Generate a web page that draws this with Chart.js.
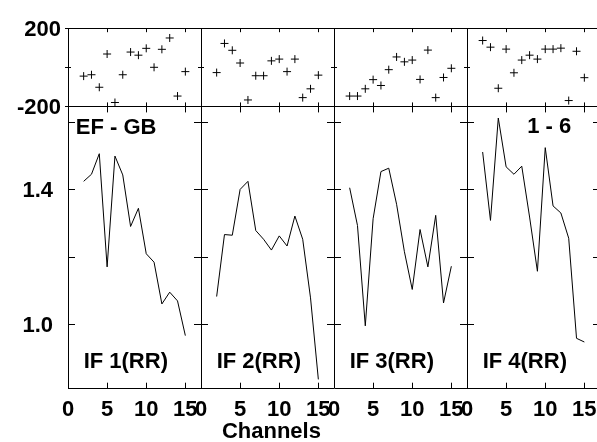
<!DOCTYPE html>
<html>
<head>
<meta charset="utf-8">
<script src="https://cdn.jsdelivr.net/npm/chart.js@4"></script>
<style>
  html, body { margin: 0; padding: 0; background: #fff; overflow: hidden; }
  #wrap { width: 605px; height: 442px; }
</style>
</head>
<body>
<div id="wrap"><canvas id="c" width="605" height="442"></canvas></div>
<script>
// ---- data ----
const channels = [2, 3, 4, 5, 6, 7, 8, 9, 10, 11, 12, 13, 14, 15];
const panelNames = ['IF 1(RR)', 'IF 2(RR)', 'IF 3(RR)', 'IF 4(RR)'];
const baselineLabel = 'EF - GB';
const timeLabel = '1 - 6';
const xTitle = 'Channels';

const phase1 = [-45, -38, -102, 68, -180, -38, 78, 62, 97, 0, 92, 150, -147, -22];
const phase2 = [-27, 122, 87, 22, -167, -43, -43, 33, 42, -22, 42, -155, -110, -40];
const phase3 = [-147, -147, -110, -63, -93, -12, 53, 28, 37, -62, 88, -155, -52, -5];
const phase4 = [137, 103, -107, 93, -28, 37, 62, 42, 93, 93, 98, -170, 82, -53];

const amp1 = [1.424, 1.445, 1.506, 1.170, 1.499, 1.443, 1.290, 1.344, 1.209, 1.184, 1.060, 1.095, 1.069, 0.966];
const amp2 = [1.082, 1.266, 1.264, 1.400, 1.424, 1.278, 1.252, 1.220, 1.262, 1.232, 1.321, 1.252, 1.078, 0.836];
const amp3 = [1.405, 1.293, 0.995, 1.313, 1.453, 1.463, 1.356, 1.215, 1.103, 1.281, 1.170, 1.323, 1.063, 1.172];
const amp4 = [1.511, 1.308, 1.612, 1.467, 1.445, 1.469, 1.318, 1.157, 1.524, 1.351, 1.330, 1.255, 0.958, 0.947];

const xTickChannels = [0, 5, 10, 15];
const xTickLabels = ['0', '5', '10', '15'];
const phaseTicks = [-200, 0, 200];
const phaseLabels = ['-200', '', '200'];
const ampTicks = [1.0, 1.2, 1.4, 1.6];
const ampLabels = ['1.0', '', '1.4', ''];

const PANEL_SPAN = 17;           // channel range shown per panel
const phaseAll = [phase1, phase2, phase3, phase4];
const ampAll = [amp1, amp2, amp3, amp4];

// ---- build datasets ----
const datasets = [];
phaseAll.forEach((vals, p) => {
  datasets.push({
    type: 'scatter',
    data: channels.map((c, i) => ({ x: p * PANEL_SPAN + c, y: vals[i] })),
    yAxisID: 'yP',
    pointStyle: 'cross',
    pointRadius: 4,
    pointBorderWidth: 1,
    pointBorderColor: '#000',
    showLine: false
  });
});
ampAll.forEach((vals, p) => {
  datasets.push({
    type: 'scatter',
    data: channels.map((c, i) => ({ x: p * PANEL_SPAN + c, y: vals[i] })),
    yAxisID: 'yA',
    showLine: true,
    borderColor: '#000',
    borderWidth: 1,
    pointRadius: 0,
    tension: 0
  });
});

const FONT = { family: "'Liberation Sans', Arial, Helvetica, sans-serif", weight: 'bold', size: 22 };
const NPANEL = panelNames.length;

const xTickValues = [];
const xTickText = [];
for (let p = 0; p < NPANEL; p++) {
  xTickChannels.forEach((c, i) => { xTickValues.push(p * PANEL_SPAN + c); xTickText.push(xTickLabels[i]); });
}

const decor = {
  id: 'decor',
  afterDraw(chart) {
    const ctx = chart.ctx;
    const x = chart.scales.x, yP = chart.scales.yP, yA = chart.scales.yA;
    const al = v => Math.round(v) + 0.5;
    ctx.save();
    ctx.strokeStyle = '#000';
    ctx.lineWidth = 1;
    ctx.beginPath();
    for (let p = 0; p < NPANEL; p++) {
      xTickChannels.forEach(t => {
        if (t === 0) return;
        const px = al(x.getPixelForValue(p * PANEL_SPAN + t));
        ctx.moveTo(px, yP.top); ctx.lineTo(px, yP.top + 4);
        ctx.moveTo(px, yP.bottom); ctx.lineTo(px, yP.bottom - 4);
        ctx.moveTo(px, yA.top); ctx.lineTo(px, yA.top + 6);
        ctx.moveTo(px, yA.bottom); ctx.lineTo(px, yA.bottom - 6);
      });
    }
    for (let p = 0; p <= NPANEL; p++) {
      const bx = x.getPixelForValue(p * PANEL_SPAN);
      phaseTicks.forEach(v => {
        const py = al(yP.getPixelForValue(v));
        ctx.moveTo(bx - 3, py); ctx.lineTo(bx + 3, py);
      });
      ampTicks.forEach(v => {
        const py = al(yA.getPixelForValue(v));
        ctx.moveTo(p === 0 ? bx : bx - 7, py); ctx.lineTo(bx + 7, py);
      });
    }
    ctx.stroke();

    ctx.fillStyle = '#000';
    ctx.font = `bold ${FONT.size}px ${FONT.family}`;
    ctx.textBaseline = 'alphabetic';
    ctx.textAlign = 'left';
    ctx.fillText(baselineLabel, x.getPixelForValue(1), yA.top + 28);
    ctx.textAlign = 'center';
    ctx.fillText(timeLabel, x.getPixelForValue(3 * PANEL_SPAN + 10.5), yA.top + 27);
    ctx.textAlign = 'left';
    panelNames.forEach((name, p) => {
      ctx.fillText(name, x.getPixelForValue(p * PANEL_SPAN + 2), yA.bottom - 20.5);
    });
    ctx.textAlign = 'center';
    ctx.fillText(xTitle, x.getPixelForValue(PANEL_SPAN + 9), chart.height - 4);
    ctx.restore();
  }
};

new Chart(document.getElementById('c'), {
  type: 'scatter',
  data: { datasets },
  plugins: [decor],
  options: {
    responsive: false,
    animation: false,
    events: [],
    layout: { padding: { top: 20, right: 4, left: 0, bottom: 0 } },
    plugins: { legend: { display: false }, tooltip: { enabled: false } },
    scales: {
      x: {
        type: 'linear',
        min: 0,
        max: NPANEL * PANEL_SPAN,
        afterBuildTicks: s => { s.ticks = xTickValues.map(v => ({ value: v })); },
        afterFit: s => { s.height = 53.3; },
        ticks: {
          autoSkip: false, maxRotation: 0, minRotation: 0,
          font: FONT, color: '#000', padding: 8,
          callback: (v, i) => xTickText[i]
        },
        grid: {
          drawTicks: false,
          color: c => (c.tick && Math.round(c.tick.value) % PANEL_SPAN === 0) ? '#000' : 'rgba(0,0,0,0)',
          lineWidth: 1
        },
        border: { display: true, color: '#000', width: 1 }
      },
      yA: {
        type: 'linear',
        position: 'left',
        stack: 'v',
        stackWeight: 288.7,
        min: 0.8084, max: 1.6464,
        afterBuildTicks: s => { s.ticks = ampTicks.map(v => ({ value: v })); },
        afterFit: s => { s.width = 68; },
        ticks: {
          font: FONT, color: '#000', padding: 15, labelOffset: 2,
          callback: (v, i) => ampLabels[i]
        },
        grid: { drawTicks: false, drawOnChartArea: false },
        border: { display: true, color: '#000', width: 1 }
      },
      yP: {
        type: 'linear',
        position: 'left',
        stack: 'v',
        stackWeight: 80,
        min: -200, max: 200,
        afterBuildTicks: s => { s.ticks = phaseTicks.map(v => ({ value: v })); },
        afterFit: s => { s.width = 68; },
        ticks: {
          font: FONT, color: '#000', padding: 7, labelOffset: 2,
          callback: (v, i) => phaseLabels[i]
        },
        grid: { drawTicks: false, color: '#000', lineWidth: 1 },
        border: { display: true, color: '#000', width: 1 }
      }
    }
  }
});
</script>
</body>
</html>
